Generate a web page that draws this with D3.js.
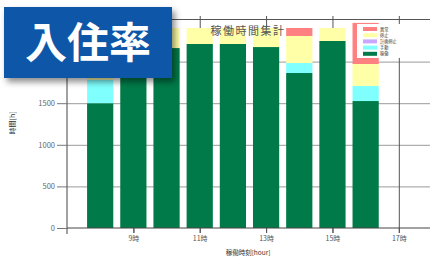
<!DOCTYPE html>
<html>
<head>
<meta charset="utf-8">
<script src="https://cdn.jsdelivr.net/npm/d3@7"></script>
<style>
  body { margin: 0; background: #fff; }
  text { font-family: "Noto Sans CJK JP", "Noto Sans", sans-serif; }
</style>
</head>
<body>
<div id="chart"></div>
<script>
// hours on the x axis, one bar each
const hours = [8, 9, 10, 11, 12, 13, 14, 15, 16];
// stacked series, bottom to top
const kadou = [1500, 2200, 2163, 2212, 2212, 2175, 1863, 2248, 1526];
const shudou = [280, 0, 0, 0, 0, 0, 120, 0, 181];
const keikaku = [0, 0, 0, 0, 0, 0, 0, 0, 0];
const teishi = [620, 200, 241, 192, 192, 229, 325, 156, 264];
const ijou = [0, 0, 0, 0, 0, 0, 96, 0, 494];

const seriesNames = ["稼働", "手動", "計画停止", "停止", "異常"];
const seriesColors = ["#007a48", "#80ffff", "#c8a8ff", "#ffffa8", "#ff8080"];

const x_ticks = [9, 11, 13, 15, 17];
const y_ticks = [0, 500, 1000, 1500, 2000, 2500];

const width = 430, height = 258;

const svg = d3.select("#chart").append("svg")
    .attr("width", width)
    .attr("height", height);

const xScale = d3.scaleLinear().domain([7, 18]).range([67, 432]);
const yScale = d3.scaleLinear().domain([0, 2500]).range([228, 20]);
const barW = (xScale(1) - xScale(0)) * 0.79;

// build table for the stack
const table = hours.map((h, i) => ({
    hour: h,
    "稼働": kadou[i], "手動": shudou[i], "計画停止": keikaku[i], "停止": teishi[i], "異常": ijou[i]
}));
const stacked = d3.stack().keys(seriesNames)(table);

// horizontal gridlines
svg.append("g")
    .attr("class", "grid")
    .attr("transform", "translate(67,0)")
    .call(d3.axisLeft(yScale).tickValues(y_ticks.slice(1, -1))
        .tickSize(-(432 - 67)).tickFormat(""))
    .call(g => g.select(".domain").remove())
    .selectAll("line").attr("stroke", "#9a9a9a");

// vertical gridlines
svg.append("g")
    .attr("class", "grid")
    .attr("transform", "translate(0,233)")
    .call(d3.axisBottom(xScale).tickValues(x_ticks)
        .tickSize(-(233 - 16)).tickFormat(""))
    .call(g => g.select(".domain").remove())
    .selectAll("line").attr("stroke", "#555");

// bars
svg.append("g")
    .selectAll("g")
    .data(stacked)
    .join("g")
    .attr("fill", (d, i) => seriesColors[i])
    .selectAll("rect")
    .data(d => d)
    .join("rect")
    .attr("x", d => xScale(d.data.hour) - barW / 2)
    .attr("width", barW)
    .attr("y", d => yScale(d[1]))
    .attr("height", d => yScale(d[0]) - yScale(d[1]));

// y axis (2000 label sits under the badge)
const yAxis = svg.append("g")
    .attr("transform", "translate(67,0)")
    .call(d3.axisLeft(yScale).tickValues(y_ticks.slice(0, -2)).tickSize(10).tickPadding(2)
        .tickFormat(d3.format("d")));
yAxis.select(".domain").attr("d", "M0," + 19 + "V" + 234).attr("stroke", "#444");
yAxis.selectAll(".tick line").attr("stroke", "#777");
yAxis.selectAll("text").attr("font-size", 7.5).attr("fill", "#666");

// x axis line and labels
const xAxis = svg.append("g")
    .attr("transform", "translate(0,228)")
    .call(d3.axisBottom(xScale).tickValues(x_ticks).tickSize(5).tickPadding(3)
        .tickFormat(d => d + "時"));
xAxis.select(".domain").attr("d", "M67,0H432").attr("stroke", "#444");
xAxis.selectAll(".tick line").attr("stroke", "#555");
xAxis.selectAll("text").attr("font-size", 7).attr("fill", "#555");

// top frame
svg.append("line")
    .attr("x1", 67).attr("x2", 432)
    .attr("y1", yScale(2500) - 0.5).attr("y2", yScale(2500) - 0.5)
    .attr("stroke", "#555");

// title
svg.append("text")
    .attr("x", 248).attr("y", 35)
    .attr("text-anchor", "middle")
    .attr("font-size", 11)
    .attr("fill", "#555")
    .attr("letter-spacing", 1.5)
    .text("稼働時間集計");

// axis titles
svg.append("text")
    .attr("x", 248).attr("y", 255)
    .attr("text-anchor", "middle")
    .attr("font-size", 6.5)
    .attr("fill", "#333")
    .text("稼働時刻[hour]");

svg.append("text")
    .attr("transform", "translate(15,123) rotate(-90)")
    .attr("text-anchor", "middle")
    .attr("font-size", 7)
    .attr("fill", "#333")
    .text("時間[h]");

// legend
const legend = svg.append("g").attr("transform", "translate(357,24)");
legend.append("rect")
    .attr("width", 46).attr("height", 34)
    .attr("fill", "#fff");
const legendItems = legend.selectAll("g")
    .data(seriesNames.slice().reverse())
    .join("g")
    .attr("transform", (d, i) => "translate(0," + (i * 6.2 + 5) + ")");
legendItems.append("rect")
    .attr("x", 6).attr("y", -2)
    .attr("width", 14).attr("height", 4)
    .attr("fill", d => seriesColors[seriesNames.indexOf(d)]);
legendItems.append("text")
    .attr("x", 23).attr("y", 1.6)
    .attr("font-size", 4.2)
    .attr("fill", "#333")
    .text(d => d);

// badge overlay
const defs = svg.append("defs");
const shadow = defs.append("filter").attr("id", "shadow")
    .attr("x", "-20%").attr("y", "-20%").attr("width", "140%").attr("height", "150%");
shadow.append("feDropShadow")
    .attr("dx", 3).attr("dy", 4).attr("stdDeviation", 3)
    .attr("flood-color", "#000").attr("flood-opacity", 0.45);

svg.append("rect")
    .attr("x", 4).attr("y", 7)
    .attr("width", 168).attr("height", 71)
    .attr("fill", "#0a56a8")
    .attr("filter", "url(#shadow)");
svg.append("text")
    .attr("x", 88).attr("y", 58)
    .attr("text-anchor", "middle")
    .attr("font-size", 42)
    .attr("font-weight", "bold")
    .attr("fill", "#fff")
    .text("入住率");
</script>
</body>
</html>
